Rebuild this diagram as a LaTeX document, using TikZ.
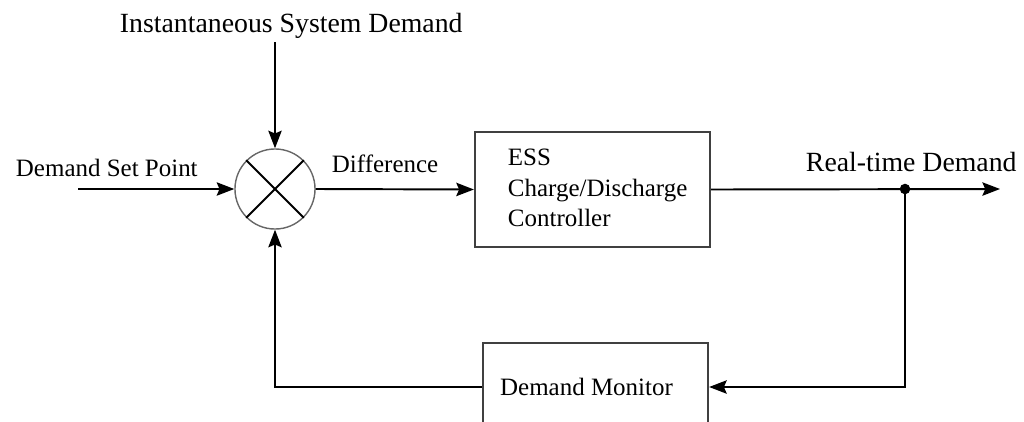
\documentclass[tikz,border=0pt]{standalone}
\usepackage{fontspec}
\setmainfont{Liberation Serif}
\usetikzlibrary{arrows.meta}
\begin{document}
\begin{tikzpicture}[x=0.01cm,y=-0.01cm,line width=0.55pt,
	>={Stealth[length=5pt,width=3.8pt,inset=0.8pt]},
	lbl/.style={font=\fontsize{7.1}{8.65}\selectfont,inner sep=0pt},
	biglbl/.style={font=\fontsize{7.9}{9.5}\selectfont,inner sep=0pt},
	blk/.style={draw=black!75,line width=0.6pt,inner sep=0pt}]
	\useasboundingbox (0,0) rectangle (1024,421);
	% summing junction
	\node [circle,draw=black!60,line width=0.4pt,minimum size=0.8cm,inner sep=0pt] (sum) at (275,189) {};
	\draw (sum.north west) -- (sum.south east);
	\draw (sum.north east) -- (sum.south west);
	% blocks
	\node [blk,minimum width=2.35cm,minimum height=1.15cm] (ess) at (592.5,189.5) {};
	\node [lbl,anchor=west,align=left] (esstext) at (507,188) {ESS\\Charge/Discharge\\Controller};
	\node [blk,lbl,minimum width=2.25cm,minimum height=0.88cm] (monitor) at (595.5,387) {Demand Monitor\kern0.18cm};
	% free ends
	\coordinate (in) at (78,189);
	\coordinate (top) at (275,42);
	\coordinate (tap) at (905,189);
	\coordinate (out) at (1000,189);
	% signals
	\draw [->] (in) -- (sum.west);
	\draw [->] (top) -- (sum.north);
	\draw [->] (sum.east) -- (ess.west);
	\draw [->] (ess.east) -- (out);
	\fill (tap) circle (1.5pt);
	\draw [->] (tap) |- (monitor.east);
	\draw [->] (monitor.west) -| (sum.south);
	% labels
	\node [lbl,anchor=base west] (setpoint) at (15,176) {Demand Set Point};
	\node [biglbl,anchor=base west] (sysdemand) at (119,32) {Instantaneous System Demand};
	\node [biglbl,anchor=base west] (realtime) at (805,171) {Real-time Demand};
	\node [lbl,anchor=base west] (diff) at (331,172) {Difference};
\end{tikzpicture}
\end{document}
